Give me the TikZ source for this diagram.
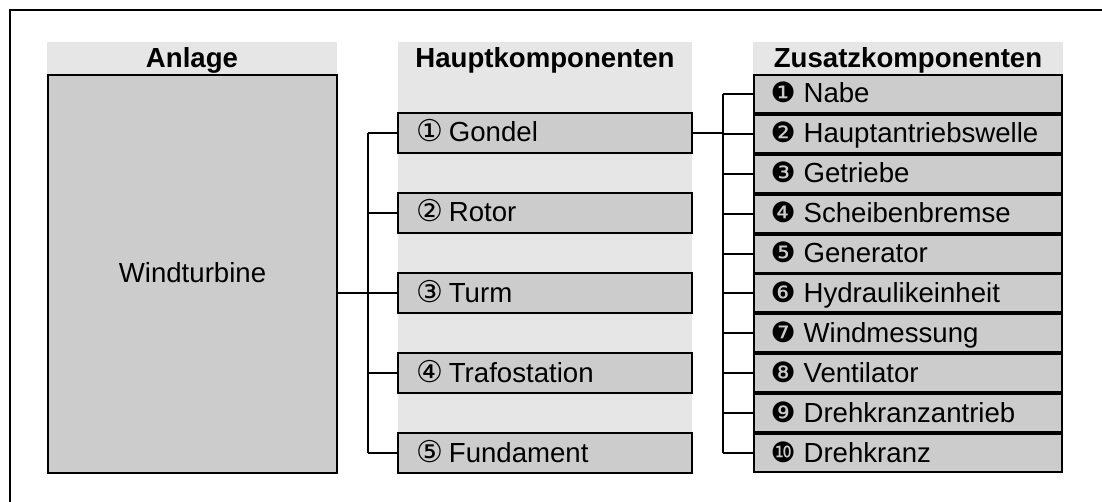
\documentclass[tikz,border=0pt]{standalone}
\usepackage{fontspec}
\setmainfont{Liberation Sans}
\newfontfamily\symfont{DejaVu Sans}
\definecolor{boxgray}{HTML}{CCCCCC}
\definecolor{lightgrey}{HTML}{E6E6E6}
\newcommand\cnum[1]{{\symfont\fontsize{30}{30}\selectfont #1}\hspace{6pt}}
\newcommand\dnum[1]{{\symfont\fontsize{28}{28}\selectfont #1}\hspace{8pt}}
\begin{document}
\begin{tikzpicture}[x=1pt,y=-1pt,
  every node/.style={font=\fontsize{27.6}{33}\selectfont, inner sep=0pt, outer sep=0pt},
  hdr/.style={fill=lightgrey, text height=18pt, text depth=0pt, font=\fontsize{27.6}{33}\selectfont\bfseries, anchor=north west},
  hbox/.style={draw, line width=1.8pt, fill=boxgray, minimum height=40pt, anchor=north west,
    text height=18pt, text depth=0pt, text width=258pt, align=left, inner xsep=18pt},
  zbox/.style={draw, line width=2pt, fill=boxgray, minimum height=38pt, anchor=north west,
    text height=18pt, text depth=0pt, text width=275pt, align=left, inner xsep=16.5pt},
  conn/.style={line width=2pt},
  frame/.style={line width=2.2pt}]
\useasboundingbox (0,0) rectangle (1102,502);
% outer frame
\draw[frame] (10,502) -- (10,10) -- (1102,10);
% column 1
\node[hdr, minimum width=290pt, minimum height=33pt] (anlH) at (47,42) {Anlage};
\node[draw, line width=1.8pt, fill=boxgray, minimum width=289pt, minimum height=398pt, anchor=north west,
  text height=18pt, text depth=0pt] (wt) at (48,75) {Windturbine};
% column 2
\fill[lightgrey] (398,42) rectangle (692,433);
\node[hdr, minimum width=294pt, minimum height=33pt, fill=none] (hauptH) at (398,42) {Hauptkomponenten};
\node[hbox] (h1) at (398,113) {\cnum{①}Gondel};
\node[hbox] (h2) at (398,193) {\cnum{②}Rotor};
\node[hbox] (h3) at (398,273) {\cnum{③}Turm};
\node[hbox] (h4) at (398,353) {\cnum{④}Trafostation};
\node[hbox] (h5) at (398,433) {\cnum{⑤}Fundament};
% column 3
\node[hdr, minimum width=310pt, minimum height=33pt] (zusH) at (753,42) {Zusatzkomponenten};
\node[zbox] (z1) at (754,75.0) {\dnum{❶}Nabe};
\node[zbox] (z2) at (754,114.9) {\dnum{❷}Hauptantriebswelle};
\node[zbox] (z3) at (754,154.8) {\dnum{❸}Getriebe};
\node[zbox] (z4) at (754,194.7) {\dnum{❹}Scheibenbremse};
\node[zbox] (z5) at (754,234.6) {\dnum{❺}Generator};
\node[zbox] (z6) at (754,274.5) {\dnum{❻}Hydraulikeinheit};
\node[zbox] (z7) at (754,314.4) {\dnum{❼}Windmessung};
\node[zbox] (z8) at (754,354.3) {\dnum{❽}Ventilator};
\node[zbox] (z9) at (754,394.2) {\dnum{❾}Drehkranzantrieb};
\node[zbox] (z10) at (754,434.1) {\dnum{❿}Drehkranz};
% spines
\coordinate (sL) at (368,0);
\coordinate (sR) at (723,0);
% left connectors
\draw[conn] (h3.west -| wt.east) -- (h3.west);
\draw[conn] (h1.west -| sL) -- (h5.west -| sL);
\foreach \n in {h1,h2,h4,h5} \draw[conn] (\n.west -| sL) -- (\n.west);
% right connectors
\draw[conn] (h1.east) -- (h1.east -| sR);
\draw[conn] (z1.west -| sR) -- (z10.west -| sR);
\foreach \n in {z1,z2,z3,z4,z5,z6,z7,z8,z9,z10} \draw[conn] (\n.west -| sR) -- (\n.west);
\end{tikzpicture}
\end{document}
